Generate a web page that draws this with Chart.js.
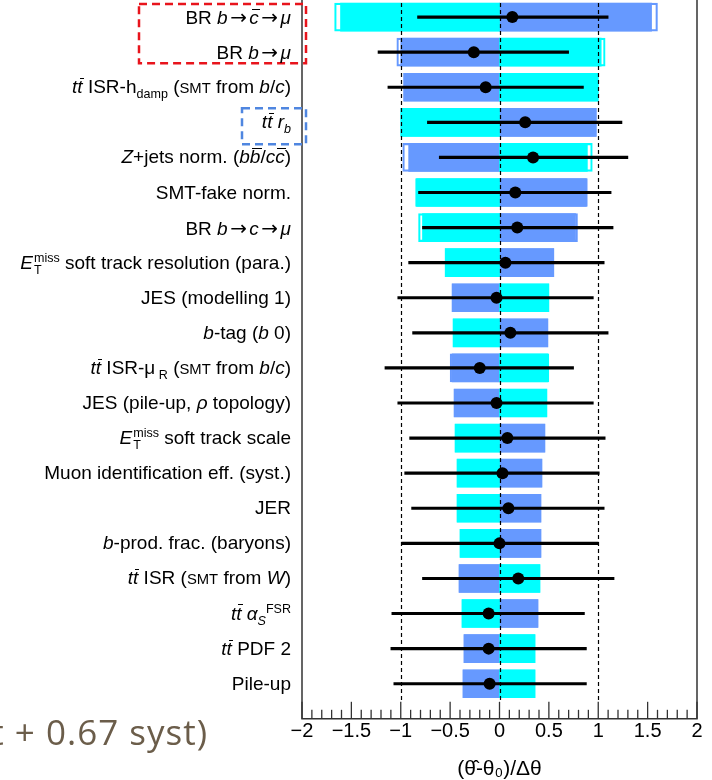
<!DOCTYPE html>
<html>
<head>
<meta charset="utf-8">
<script src="https://cdn.jsdelivr.net/npm/chart.js@4.4.0/dist/chart.umd.min.js"></script>
<style>
  html, body { margin: 0; padding: 0; background: #fff; }
  body { width: 712px; height: 780px; position: relative; overflow: hidden; font-family: "Liberation Sans", Arial, sans-serif; }
  #wrap { position: absolute; left: 0; top: -60px; width: 712px; height: 850px; }
  .lbl { position: absolute; right: 421px; white-space: nowrap; font-size: 19px; line-height: 22px; color: #000; }
  .ov { position: relative; }
  .ov::after { content: ''; position: absolute; left: 0.12em; right: -0.06em; top: 0.1em; border-top: 1.2px solid #000; }
  .arr { font-family: "DejaVu Sans", sans-serif; font-style: normal; font-size: 1.05em; padding: 0 2.5px; }
  .sc { font-size: 0.78em; }
  sub, sup { line-height: 0; font-size: 0.66em; }
  .ms { display: inline-block; vertical-align: -0.42em; font-size: 0.66em; line-height: 0.95; margin: -12px 0 -12px 1px; }
  .ms span { display: block; }
  #note { position: absolute; right: 504px; top: 714px; white-space: nowrap; font-family: "Open Sans", sans-serif; font-size: 35px; line-height: 35px; letter-spacing: 1px; color: #6b5d4a; }
</style>
</head>
<body>
<div id="wrap"><canvas id="c" width="712" height="850"></canvas></div>
<div id="note">stat + 0.67 syst)</div>
<script>
const tt = '<i>t<span class="ov">t</span></i>';
const arr = '<span class="arr">→</span>';
const etMiss = '<i>E</i><span class="ms"><span>miss</span><span>T</span></span>';

// nuisance parameters, top to bottom
const labels = [
  'BR <i>b</i>' + arr + '<i><span class="ov">c</span></i>' + arr + '<i>μ</i>',
  'BR <i>b</i>' + arr + '<i>μ</i>',
  tt + ' ISR-h<sub>damp</sub> (<span class="sc">SMT</span> from <i>b</i>/<i>c</i>)',
  tt + ' <i>r</i><sub><i>b</i></sub>',
  '<i>Z</i>+jets norm. (<i>b<span class="ov">b</span></i>/<i>c<span class="ov">c</span></i>)',
  'SMT-fake norm.',
  'BR <i>b</i>' + arr + '<i>c</i>' + arr + '<i>μ</i>',
  etMiss + ' soft track resolution (para.)',
  'JES (modelling 1)',
  '<i>b</i>-tag (<i>b</i> 0)',
  tt + ' ISR-μ<sub> R</sub> (<span class="sc">SMT</span> from <i>b</i>/<i>c</i>)',
  'JES (pile-up, <i>ρ</i> topology)',
  etMiss + ' soft track scale',
  'Muon identification eff. (syst.)',
  'JER',
  '<i>b</i>-prod. frac. (baryons)',
  tt + ' ISR (<span class="sc">SMT</span> from <i>W</i>)',
  tt + ' <i>α</i><sub><i>S</i></sub><sup>FSR</sup>',
  tt + ' PDF 2',
  'Pile-up'
];

// post-fit impacts (+1 sigma cyan, -1 sigma blue)
const impactUp   = [-1.61, 1.03, 1.00, -1.00, 0.89, -0.84, -0.78, -0.55, 0.50, -0.47, 0.49, 0.48, -0.45, -0.43, -0.43, -0.40, 0.41, -0.38, 0.36, 0.36];
const impactDown = [1.54, -1.00, -0.97, 0.98, -0.92, 0.88, 0.77, 0.55, -0.48, 0.49, -0.48, -0.46, 0.46, 0.43, 0.42, 0.42, -0.41, 0.39, -0.36, -0.37];
// pre-fit impacts (open boxes)
const preUp   = [-1.67, 1.07, 1.00, -1.00, 0.94, -0.85, -0.82, -0.55, 0.50, -0.47, 0.50, 0.48, -0.45, -0.43, -0.43, -0.40, 0.41, -0.38, 0.36, 0.36];
const preDown = [1.60, -1.04, -0.97, 0.98, -0.98, 0.89, 0.79, 0.55, -0.48, 0.49, -0.50, -0.46, 0.46, 0.43, 0.42, 0.42, -0.41, 0.39, -0.36, -0.37];
// pulls with errors
const pull   = [0.13, -0.26, -0.14, 0.26, 0.34, 0.16, 0.18, 0.06, -0.03, 0.11, -0.20, -0.03, 0.08, 0.03, 0.09, 0.00, 0.19, -0.11, -0.11, -0.10];
const pullLo = [-0.83, -1.23, -1.13, -0.73, -0.61, -0.82, -0.78, -0.92, -1.03, -0.88, -1.16, -1.03, -0.91, -0.96, -0.89, -0.99, -0.78, -1.09, -1.10, -1.07];
const pullHi = [1.10, 0.70, 0.85, 1.24, 1.30, 1.13, 1.15, 1.06, 0.95, 1.10, 0.75, 0.95, 1.07, 1.01, 1.06, 1.00, 1.16, 0.86, 0.88, 0.88];

const refLines = [-1, 0, 1];
const xMin = -2, xMax = 2, xStep = 0.5;

const rowPos = labels.map((_, i) => labels.length - i);
const bars = vals => vals.map((v, i) => ({ x: [0, v], y: rowPos[i] }));

const CYAN = '#00ffff';
const BLUE = '#6699ff';
const WRAP_TOP = 60;

const decor = {
  id: 'decor',
  afterDatasetsDraw(chart) {
    const { ctx, chartArea: a, scales: { x } } = chart;
    ctx.save();
    ctx.strokeStyle = '#000';
    ctx.lineWidth = 1.2;
    ctx.setLineDash([4, 3]);
    refLines.forEach(v => {
      const px = Math.round(x.getPixelForValue(v)) + 0.5;
      ctx.beginPath(); ctx.moveTo(px, a.top); ctx.lineTo(px, a.bottom - 17); ctx.stroke();
    });
    ctx.restore();
  },
  afterDraw(chart) {
    const { ctx, chartArea: a, scales: { x, y } } = chart;
    ctx.save();
    // frame
    ctx.strokeStyle = '#333';
    ctx.lineWidth = 1.5;
    ctx.beginPath();
    ctx.moveTo(a.left, a.top); ctx.lineTo(a.left, a.bottom); ctx.lineTo(a.right, a.bottom); ctx.lineTo(a.right, a.top);
    ctx.stroke();
    // inward ticks
    ctx.lineWidth = 1.3;
    for (let k = xMin * 10; k <= xMax * 10; k++) {
      const px = x.getPixelForValue(k / 10);
      const len = k % 5 === 0 ? 17 : 9;
      ctx.beginPath(); ctx.moveTo(px, a.bottom); ctx.lineTo(px, a.bottom - len); ctx.stroke();
    }
    // highlight boxes
    ctx.lineWidth = 2.5;
    ctx.setLineDash([8, 5]);
    ctx.strokeStyle = '#e8141c';
    const r1 = y.getPixelForValue(rowPos[0]), r2 = y.getPixelForValue(rowPos[1]);
    ctx.strokeRect(139, r1 - 13, 167, r2 + 11 - (r1 - 13));
    ctx.strokeStyle = '#4f86e0';
    const r4 = y.getPixelForValue(rowPos[3]);
    ctx.strokeRect(242, r4 - 14, 64, 36);
    ctx.restore();
  }
};

const common = { type: 'bar', grouped: false, barThickness: 28 };

const chart = new Chart(document.getElementById('c'), {
  type: 'bar',
  data: {
    datasets: [
      { ...common, data: bars(preUp), backgroundColor: 'rgba(0,0,0,0)', borderColor: CYAN, borderWidth: 1.5, borderSkipped: false, order: 6 },
      { ...common, data: bars(preDown), backgroundColor: 'rgba(0,0,0,0)', borderColor: BLUE, borderWidth: 1.5, borderSkipped: false, order: 6 },
      { ...common, data: bars(impactUp), backgroundColor: CYAN, order: 4 },
      { ...common, data: bars(impactDown), backgroundColor: BLUE, order: 4 },
      { type: 'bar', grouped: false, barThickness: 2.5, data: pullLo.map((lo, i) => ({ x: [lo, pullHi[i]], y: rowPos[i] })), backgroundColor: '#000', order: 2 },
      { type: 'scatter', data: pull.map((p, i) => ({ x: p, y: rowPos[i] })), pointRadius: 6, pointBackgroundColor: '#000', pointBorderWidth: 0, order: 1 }
    ]
  },
  options: {
    indexAxis: 'y',
    responsive: false,
    animation: false,
    events: [],
    layout: { padding: { left: 302, right: 15, top: 42, bottom: 8 } },
    plugins: { legend: { display: false }, tooltip: { enabled: false } },
    scales: {
      y: { type: 'linear', min: 0, max: labels.length + 1, offset: false, display: false },
      x: {
        type: 'linear', min: xMin, max: xMax,
        grid: { display: false, drawTicks: false },
        border: { display: false },
        ticks: {
          stepSize: xStep, padding: 1, color: '#000',
          font: { family: '"Liberation Sans", Arial, sans-serif', size: 20 },
          callback: v => String(v).replace('-', '−')
        },
        title: {
          display: true, text: '(θ̂-θ₀)/Δθ', color: '#000',
          font: { family: '"Liberation Sans", Arial, sans-serif', size: 21 },
          padding: { top: 12, bottom: 0 }
        }
      }
    }
  },
  plugins: [decor]
});

const yScale = chart.scales.y;
labels.forEach((html, i) => {
  const d = document.createElement('div');
  d.className = 'lbl';
  d.innerHTML = html;
  d.style.top = (yScale.getPixelForValue(rowPos[i]) - WRAP_TOP - 11) + 'px';
  document.body.appendChild(d);
});
</script>
</body>
</html>
